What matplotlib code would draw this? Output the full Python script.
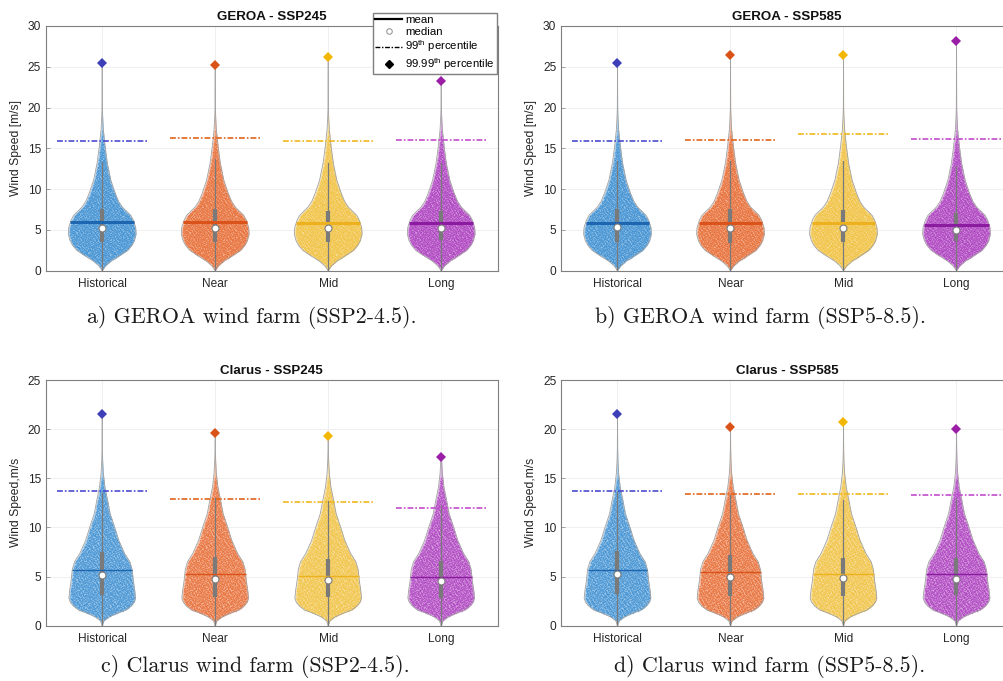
import numpy as np
import matplotlib.pyplot as plt
from matplotlib.colors import to_rgb
from matplotlib.lines import Line2D

plt.rcParams['font.family'] = 'Liberation Sans'
plt.rcParams['mathtext.fontset'] = 'custom'
plt.rcParams['mathtext.rm'] = 'Liberation Sans'

periods = ['Historical', 'Near', 'Mid', 'Long']

titles = ['GEROA - SSP245', 'GEROA - SSP585', 'Clarus - SSP245', 'Clarus - SSP585']
captions = ['a) GEROA wind farm (SSP2-4.5).', 'b) GEROA wind farm (SSP5-8.5).',
            'c) Clarus wind farm (SSP2-4.5).', 'd) Clarus wind farm (SSP5-8.5).']
ylabels = ['Wind Speed [m/s]', 'Wind Speed [m/s]', 'Wind Speed,m/s', 'Wind Speed,m/s']
ymax = [30, 30, 25, 25]

# statistics per panel (Historical, Near, Mid, Long), wind speed in m/s
mean_a = [5.93, 5.93, 5.80, 5.80]
median_a = [5.27, 5.25, 5.25, 5.22]
q1_a = [3.56, 3.56, 3.56, 3.76]
q3_a = [7.56, 7.56, 7.36, 7.36]
whisk_a = [13.36, 13.65, 13.16, 13.2]
p99_a = [15.94, 16.26, 15.94, 16.02]
p9999_a = [25.5, 25.26, 26.15, 23.2]

mean_b = [5.90, 5.88, 5.90, 5.63]
median_b = [5.30, 5.20, 5.20, 5.05]
q1_b = [3.5, 3.45, 3.5, 3.67]
q3_b = [7.6, 7.6, 7.5, 7.1]
whisk_b = [13.5, 13.4, 13.5, 12.8]
p99_b = [15.96, 16.08, 16.78, 16.12]
p9999_b = [25.5, 26.4, 26.5, 28.2]

mean_c = [5.66, 5.22, 5.05, 4.92]
median_c = [5.16, 4.78, 4.68, 4.51]
q1_c = [3.12, 2.95, 2.95, 2.78]
q3_c = [7.53, 6.95, 6.75, 6.58]
whisk_c = [13.5, 13.0, 12.7, 12.2]
p99_c = [13.74, 12.86, 12.58, 11.97]
p9999_c = [21.54, 19.57, 19.34, 17.2]

mean_d = [5.66, 5.43, 5.22, 5.22]
median_d = [5.22, 4.99, 4.82, 4.78]
q1_d = [3.2, 3.05, 3.05, 3.12]
q3_d = [7.6, 7.16, 6.92, 6.85]
whisk_d = [13.6, 13.3, 12.8, 12.9]
p99_d = [13.74, 13.37, 13.43, 13.33]
p9999_d = [21.5, 20.25, 20.7, 20.0]

# violin half-width profiles (x units) against wind speed for each farm
geroa_y = [0, 0.6, 1.2, 1.8, 2.5, 3.1, 3.7, 4.5, 5.3, 6.2, 6.8, 7.3, 7.8, 8.5,
           9.5, 11.1, 13.2, 15.2, 17.3, 18.9, 20.0]
geroa_hw = [0, 0.03, 0.08, 0.15, 0.225, 0.262, 0.285, 0.300, 0.296, 0.275, 0.252,
            0.215, 0.178, 0.145, 0.115, 0.076, 0.045, 0.026, 0.010, 0.004, 0.0015]
clarus_y = [0, 0.5, 0.9, 1.3, 1.6, 2.0, 2.4, 2.8, 3.6, 4.6, 5.7, 6.5, 7.35, 8.7,
            10.1, 11.4, 12.8, 14.1, 15.5, 16.8, 18.0]
clarus_hw = [0, 0.015, 0.062, 0.14, 0.21, 0.255, 0.283, 0.295, 0.288, 0.275, 0.265,
             0.245, 0.198, 0.146, 0.108, 0.070, 0.047, 0.024, 0.010, 0.004, 0.0015]

panels = [
    (mean_a, median_a, q1_a, q3_a, whisk_a, p99_a, p9999_a, geroa_y, geroa_hw),
    (mean_b, median_b, q1_b, q3_b, whisk_b, p99_b, p9999_b, geroa_y, geroa_hw),
    (mean_c, median_c, q1_c, q3_c, whisk_c, p99_c, p9999_c, clarus_y, clarus_hw),
    (mean_d, median_d, q1_d, q3_d, whisk_d, p99_d, p9999_d, clarus_y, clarus_hw),
]

violin_colors = ['#3a8ed2', '#e86a30', '#f2c03a', '#ac3cbf']
mean_colors = ['#1f66b0', '#d9531a', '#edb120', '#8b1ca0']
p99_colors = ['#4a4ad0', '#e2641a', '#f0b820', '#c24ccc']
diamond_colors = ['#3e3eb8', '#d95319', '#f2b705', '#9a1ea6']
gray = '#7a7a7a'


def halton(n, base, start=1):
    out = np.empty(n)
    for k in range(n):
        i = k + start
        f, r = 1.0, 0.0
        while i > 0:
            f /= base
            r += f * (i % base)
            i //= base
        out[k] = r
    return out


U = halton(12000, 2, 17)
V = halton(12000, 3, 17)


def tint(c, amount):
    r = np.array(to_rgb(c))
    return tuple(r + (1 - r) * amount)


fig = plt.figure(figsize=(10.04, 6.81), dpi=100)
W, H = 1004, 681
boxes = [(45.7, 26, 452, 244.7), (561, 26, 452, 244.7),
         (45.7, 380, 452, 245.7), (561, 380, 452, 245.7)]

for p, (box, stats) in enumerate(zip(boxes, panels)):
    left, top, w, h = box
    ax = fig.add_axes([left / W, 1 - (top + h) / H, w / W, h / H])
    mean, med, q1, q3, whisk, p99, p9999, py, phw = stats
    py = np.array(py)
    phw = np.array(phw)
    mean_lw = 2.2 if p < 2 else 1.0

    for i in range(4):
        c = i + 1
        keep = py < p9999[i]
        ys = np.append(py[keep], p9999[i])
        hw = np.append(phw[keep], 0.0)

        ax.fill_betweenx(ys, c - hw, c + hw, color=tint(violin_colors[i], 0.55),
                         lw=0, zorder=1)
        # speckle texture standing in for the individual samples
        sx = c - 0.3 + 0.6 * U
        sy = 18.0 * V
        inside = np.abs(sx - c) < np.interp(sy, ys, hw) - 0.01
        ax.scatter(sx[inside], sy[inside], s=1.0, marker='o', lw=0,
                   color=violin_colors[i], alpha=0.5, zorder=2)
        ax.plot(c - hw, ys, color='#a0a0a0', lw=0.6, zorder=3)
        ax.plot(c + hw, ys, color='#a0a0a0', lw=0.6, zorder=3)

        ax.plot([c, c], [0, whisk[i]], color=gray, lw=0.9, zorder=4)
        ax.plot([c, c], [q1[i], q3[i]], color=gray, lw=3.0,
                solid_capstyle='butt', zorder=5)
        mhw = np.interp(mean[i], ys, hw)
        ax.plot([c - mhw, c + mhw], [mean[i], mean[i]], color=mean_colors[i],
                lw=mean_lw, solid_capstyle='butt', zorder=6)
        ax.plot(c, med[i], 'o', ms=5, mfc='white', mec=gray, mew=0.8, zorder=7)
        ax.plot([c - 0.4, c + 0.4], [p99[i], p99[i]], color=p99_colors[i], lw=1.2,
                dashes=(3.5, 1.2, 1.0, 1.2), zorder=6)
        ax.plot(c, p9999[i], 'D', ms=5, color=diamond_colors[i], mew=0, zorder=7)

    ax.set_xlim(0.5, 4.5)
    ax.set_ylim(0, ymax[p])
    ax.set_xticks([1, 2, 3, 4], periods)
    ax.set_yticks(range(0, ymax[p] + 1, 5))
    ax.grid(True, color='#ececec', lw=0.6)
    ax.set_axisbelow(True)
    ax.tick_params(direction='in', length=3, width=0.5, color='#7f7f7f',
                   labelcolor='#262626', labelsize=8.6)
    ax.tick_params(axis='y', pad=3.4)
    ax.tick_params(axis='x', pad=5)
    for s in ax.spines.values():
        s.set_color('#7f7f7f')
        s.set_linewidth(0.8)
    ax.set_title(titles[p], fontsize=9.6, fontweight='bold', pad=4, color='#111111')
    ax.set_ylabel(ylabels[p], fontsize=8.7, color='#262626', labelpad=4)

caption_pos = [(252, 317), (761, 317), (255, 666), (770, 666)]
for (cx, cy), cap in zip(caption_pos, captions):
    fig.text(cx / W, 1 - cy / H, cap, family='cmr10', fontsize=15.8,
             ha='center', va='center', color='#1a1a1a')

handles = [
    Line2D([], [], color='black', lw=1.6),
    Line2D([], [], ls='none', marker='o', ms=4, mfc='white', mec='#999999', mew=0.8),
    Line2D([], [], color='black', lw=1.0, dashes=(3.5, 1.2, 1.0, 1.2)),
    Line2D([], [], ls='none', marker='D', ms=4.5, color='black'),
]
labels = ['mean', 'median', r'99$^{\rm th}$ percentile', r'99.99$^{\rm th}$ percentile']
fig.legend(handles, labels, loc='upper right',
           bbox_to_anchor=(497 / W, 1 - 13 / H), fontsize=8.2, frameon=True,
           fancybox=False, edgecolor='#7f7f7f', framealpha=1, borderpad=0.2,
           labelspacing=0.15, handlelength=2.4, handletextpad=0.25, borderaxespad=0)

fig.savefig('out.png', dpi=100)
